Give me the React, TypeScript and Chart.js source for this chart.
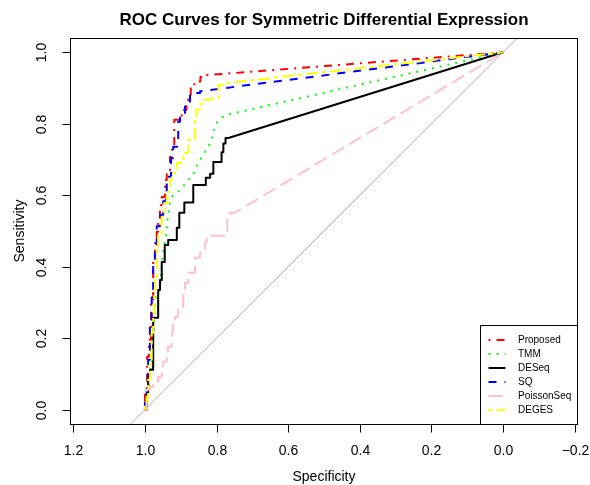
import React, { useEffect, useRef } from "react";
import { Chart, registerables } from "chart.js";
Chart.register(...registerables);

// ---- data (specificity, sensitivity) ----
const specTicks = [1.2, 1.0, 0.8, 0.6, 0.4, 0.2, 0.0, -0.2];
const sensTicks = [0.0, 0.2, 0.4, 0.6, 0.8, 1.0];

const seriesNames = ["Proposed", "TMM", "DESeq", "SQ", "PoissonSeq", "DEGES"];
const seriesColors = ["#FF0000", "#00FF00", "#000000", "#0000FF", "#FFC0CB", "#FFFF00"];
const seriesDashes: number[][] = [[2, 6, 8, 6], [2, 6], [], [8, 8], [14, 6], [4, 4, 12, 4]];

const proposedROC = [
  [1.0, 0.0], [1.0, 0.047], [0.994, 0.047], [0.994, 0.148], [0.989, 0.148], [0.989, 0.196],
  [0.983, 0.196], [0.983, 0.308], [0.977, 0.308], [0.977, 0.419], [0.972, 0.419], [0.972, 0.453],
  [0.967, 0.453], [0.967, 0.498], [0.963, 0.498], [0.963, 0.531], [0.958, 0.531], [0.958, 0.573],
  [0.953, 0.573], [0.953, 0.595], [0.944, 0.595], [0.944, 0.643], [0.939, 0.643], [0.939, 0.671],
  [0.93, 0.671], [0.93, 0.707], [0.925, 0.707], [0.925, 0.727], [0.918, 0.727], [0.918, 0.811],
  [0.897, 0.811], [0.897, 0.839], [0.884, 0.839], [0.884, 0.867], [0.872, 0.867], [0.872, 0.903],
  [0.862, 0.903], [0.862, 0.918], [0.845, 0.918], [0.845, 0.931], [0.828, 0.931], [0.828, 0.936],
  [0.0, 1.0],
];

const tmmROC = [
  [1.0, 0.0], [0.995, 0.02], [0.991, 0.056], [0.983, 0.112], [0.977, 0.163], [0.972, 0.299],
  [0.967, 0.326], [0.958, 0.335], [0.953, 0.41], [0.949, 0.438], [0.944, 0.471], [0.939, 0.494],
  [0.939, 0.517], [0.935, 0.545], [0.93, 0.578], [0.925, 0.596], [0.907, 0.61], [0.893, 0.624],
  [0.884, 0.638], [0.865, 0.657], [0.856, 0.68], [0.846, 0.699], [0.832, 0.722], [0.818, 0.746],
  [0.809, 0.769], [0.805, 0.792], [0.795, 0.811], [0.772, 0.825], [0.0, 1.0],
];

const deseqROC = [
  [1.0, 0.0], [0.995, 0.0], [0.995, 0.047], [0.991, 0.047], [0.991, 0.092], [0.986, 0.092],
  [0.986, 0.112], [0.977, 0.112], [0.977, 0.257], [0.963, 0.257], [0.963, 0.335], [0.958, 0.335],
  [0.958, 0.363], [0.953, 0.363], [0.953, 0.413], [0.946, 0.413], [0.946, 0.425], [0.944, 0.425],
  [0.944, 0.461], [0.935, 0.461], [0.935, 0.475], [0.911, 0.475], [0.911, 0.509], [0.904, 0.509],
  [0.904, 0.551], [0.89, 0.551], [0.89, 0.58], [0.865, 0.58], [0.865, 0.629], [0.83, 0.629],
  [0.83, 0.649], [0.818, 0.649], [0.818, 0.66], [0.809, 0.66], [0.809, 0.693], [0.786, 0.693],
  [0.786, 0.72], [0.781, 0.72], [0.781, 0.745], [0.775, 0.745], [0.775, 0.76], [0.767, 0.76],
  [0.0, 1.0],
];

const sqROC = [
  [1.0, 0.0], [1.0, 0.028], [0.995, 0.028], [0.995, 0.084], [0.991, 0.084], [0.991, 0.14],
  [0.986, 0.14], [0.986, 0.233], [0.981, 0.233], [0.981, 0.317], [0.977, 0.317], [0.977, 0.419],
  [0.972, 0.419], [0.972, 0.466], [0.967, 0.466], [0.967, 0.513], [0.958, 0.513], [0.958, 0.545],
  [0.949, 0.545], [0.949, 0.583], [0.942, 0.583], [0.942, 0.601], [0.939, 0.601], [0.939, 0.639],
  [0.936, 0.639], [0.936, 0.652], [0.927, 0.652], [0.927, 0.704], [0.921, 0.704], [0.921, 0.736],
  [0.907, 0.736], [0.907, 0.806], [0.902, 0.806], [0.902, 0.83], [0.888, 0.83], [0.888, 0.862],
  [0.874, 0.862], [0.874, 0.881], [0.865, 0.881], [0.865, 0.886], [0.846, 0.886], [0.846, 0.891],
  [0.0, 1.0],
];

const poissonSeqROC = [
  [1.0, 0.0], [0.995, 0.0], [0.995, 0.056], [0.986, 0.056], [0.986, 0.064], [0.977, 0.064],
  [0.977, 0.078], [0.963, 0.078], [0.963, 0.092], [0.953, 0.092], [0.953, 0.117], [0.95, 0.117],
  [0.95, 0.134], [0.939, 0.134], [0.939, 0.162], [0.936, 0.162], [0.936, 0.176], [0.925, 0.176],
  [0.925, 0.215], [0.922, 0.215], [0.922, 0.252], [0.916, 0.252], [0.916, 0.26], [0.907, 0.26],
  [0.907, 0.288], [0.893, 0.288], [0.893, 0.335], [0.888, 0.335], [0.888, 0.355], [0.879, 0.355],
  [0.879, 0.383], [0.86, 0.383], [0.86, 0.425], [0.846, 0.425], [0.846, 0.439], [0.832, 0.439],
  [0.832, 0.47], [0.827, 0.47], [0.827, 0.487], [0.77, 0.487], [0.77, 0.545], [0.763, 0.545],
  [0.763, 0.551], [0.749, 0.551], [0.0, 1.0],
];

const degesROC = [
  [1.0, 0.0], [1.0, 0.009], [0.995, 0.009], [0.995, 0.037], [0.991, 0.037], [0.991, 0.084],
  [0.986, 0.084], [0.986, 0.135], [0.981, 0.135], [0.981, 0.215], [0.977, 0.215], [0.977, 0.261],
  [0.974, 0.261], [0.974, 0.335], [0.972, 0.335], [0.972, 0.363], [0.967, 0.363], [0.967, 0.447],
  [0.963, 0.447], [0.963, 0.489], [0.953, 0.489], [0.953, 0.54], [0.946, 0.54], [0.946, 0.578],
  [0.939, 0.578], [0.939, 0.61], [0.93, 0.61], [0.93, 0.643], [0.925, 0.643], [0.925, 0.662],
  [0.911, 0.662], [0.911, 0.69], [0.893, 0.69], [0.893, 0.718], [0.879, 0.718], [0.879, 0.755],
  [0.86, 0.755], [0.86, 0.815], [0.856, 0.815], [0.856, 0.839], [0.842, 0.839], [0.842, 0.867],
  [0.814, 0.867], [0.814, 0.871], [0.795, 0.871], [0.795, 0.909], [0.781, 0.909], [0.781, 0.913],
  [0.0, 1.0],
];

const diagonal = [[1.3, -0.3], [-0.3, 1.3]];

const seriesData = [proposedROC, tmmROC, deseqROC, sqROC, poissonSeqROC, degesROC];

const titleText = "ROC Curves for Symmetric Differential Expression";
const xLabel = "Specificity";
const yLabel = "Sensitivity";

const FONT = '"Liberation Sans", Arial, Helvetica, sans-serif';

const fmt = (v: number) => (v < 0 ? "\u2212" + Math.abs(v).toFixed(1) : v.toFixed(1));

const decorPlugin = {
  id: "rdecor",
  afterDraw(chart: any) {
    const { ctx, chartArea, scales } = chart;
    const { left, right, top, bottom } = chartArea;
    const xs = scales.x;
    const ys = scales.y;
    ctx.save();
    // box
    ctx.strokeStyle = "#000";
    ctx.lineWidth = 1;
    ctx.setLineDash([]);
    ctx.strokeRect(Math.round(left) - 0.5, Math.round(top) + 0.5, Math.round(right) - Math.round(left) + 1, Math.round(bottom) - Math.round(top));

    // x ticks
    ctx.fillStyle = "#000";
    ctx.font = `14px ${FONT}`;
    ctx.textAlign = "center";
    ctx.textBaseline = "alphabetic";
    const bY = Math.round(bottom) + 0.5;
    for (const t of specTicks) {
      const px = Math.round(xs.getPixelForValue(t)) + 0.5;
      ctx.beginPath();
      ctx.moveTo(px, bY);
      ctx.lineTo(px, bY + 8);
      ctx.stroke();
      ctx.fillText(fmt(t), px, 455);
    }
    // y ticks
    const lX = Math.round(left) - 0.5;
    for (const t of sensTicks) {
      const py = Math.round(ys.getPixelForValue(t)) + 0.5;
      ctx.beginPath();
      ctx.moveTo(lX - 8, py);
      ctx.lineTo(lX, py);
      ctx.stroke();
      ctx.save();
      ctx.translate(45.5, py);
      ctx.rotate(-Math.PI / 2);
      ctx.fillText(fmt(t), 0, 0);
      ctx.restore();
    }
    // axis labels
    const cx = (left + right) / 2;
    const cy = (top + bottom) / 2;
    ctx.fillText(xLabel, cx, 481);
    ctx.save();
    ctx.translate(24, cy);
    ctx.rotate(-Math.PI / 2);
    ctx.fillText(yLabel, 0, 0);
    ctx.restore();

    // title
    ctx.font = `bold 17px ${FONT}`;
    ctx.fillText(titleText, cx, 25);

    // legend
    const lgLeft = 480.5;
    const lgTop = 325.5;
    const lgRight = Math.round(right) + 0.5;
    const lgBottom = Math.round(bottom) + 0.5;
    ctx.fillStyle = "#fff";
    ctx.fillRect(lgLeft, lgTop, lgRight - lgLeft, lgBottom - lgTop);
    ctx.strokeStyle = "#000";
    ctx.strokeRect(lgLeft, lgTop, lgRight - lgLeft, lgBottom - lgTop);
    ctx.font = `10px ${FONT}`;
    ctx.textAlign = "left";
    ctx.textBaseline = "middle";
    for (let i = 0; i < seriesNames.length; i++) {
      const yy = 340 + i * 14;
      ctx.strokeStyle = seriesColors[i];
      ctx.lineWidth = 2;
      ctx.setLineDash(seriesDashes[i]);
      ctx.beginPath();
      ctx.moveTo(488.5, yy);
      ctx.lineTo(505.5, yy);
      ctx.stroke();
      ctx.setLineDash([]);
      ctx.fillStyle = "#000";
      ctx.fillText(seriesNames[i], 518, yy + 0.5);
    }
    ctx.restore();
  },
};

export default function App() {
  const ref = useRef<HTMLCanvasElement | null>(null);
  useEffect(() => {
    document.body.style.margin = "0";
    const canvas = ref.current;
    if (!canvas) return;
    const datasets: any[] = seriesData.map((d, i) => ({
      label: seriesNames[i],
      data: d.map(([x, y]) => ({ x, y })),
      showLine: true,
      borderColor: seriesColors[i],
      backgroundColor: seriesColors[i],
      borderWidth: 2,
      borderDash: seriesDashes[i],
      borderJoinStyle: "round",
      borderCapStyle: "butt",
      pointRadius: 0,
      pointHoverRadius: 0,
      tension: 0,
      fill: false,
      order: seriesNames.length - i,
    }));
    datasets.push({
      label: "diag",
      data: diagonal.map(([x, y]) => ({ x, y })),
      showLine: true,
      borderColor: "#AAAAAA",
      borderWidth: 1,
      pointRadius: 0,
      tension: 0,
      fill: false,
      order: 20,
    });
    const chart = new Chart(canvas, {
      type: "scatter",
      data: { datasets },
      options: {
        responsive: false,
        animation: false,
        events: [],
        devicePixelRatio: 1,
        layout: { padding: { top: 38, right: 13, left: 0, bottom: 0 } },
        plugins: { legend: { display: false }, tooltip: { enabled: false }, title: { display: false } },
        scales: {
          x: {
            type: "linear",
            min: -0.2064,
            max: 1.2064,
            reverse: true,
            grid: { display: false },
            border: { display: false },
            ticks: { display: false },
            afterFit: (s: any) => { s.height = 61; },
          },
          y: {
            type: "linear",
            min: -0.04,
            max: 1.04,
            grid: { display: false },
            border: { display: false },
            ticks: { display: false },
            afterFit: (s: any) => { s.width = 71; },
          },
        },
      } as any,
      plugins: [decorPlugin],
    });
    return () => chart.destroy();
  }, []);
  return (
    <div style={{ position: "absolute", left: 0, top: 0, width: 590, height: 485, background: "#fff" }}>
      <canvas ref={ref} width={590} height={485} style={{ display: "block", width: 590, height: 485 }} />
    </div>
  );
}
